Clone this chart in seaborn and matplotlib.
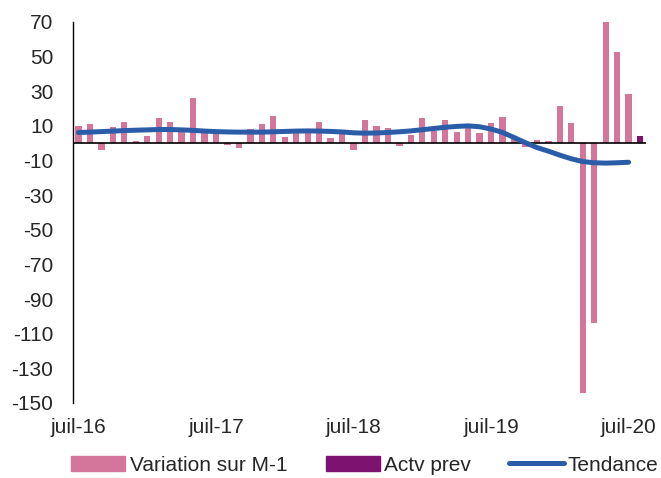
import matplotlib
matplotlib.use("Agg")
import matplotlib.pyplot as plt
import numpy as np
import pandas as pd
import seaborn as sns

MOIS_FR = ["juil", "août", "sept", "oct", "nov", "déc",
           "janv", "févr", "mars", "avr", "mai", "juin"]

# monthly change, juil-16 .. juil-20
variation = [10, 11, -4, 9.5, 12, 1, 4, 14.5, 12, 7, 26, 6,
             5.5, -1, -2.5, 8, 11, 15.5, 3.5, 6.5, 6.5, 12, 3, 6,
             -4, 13.5, 9.7, 8.5, -1.5, 5, 14.3, 7, 13.3, 6.6, 8.5, 6,
             11.6, 15, 3, -2, 1.7, 1, 21.2, 11.6, -144.5, -104, 70, 52.7,
             28.2]
# forecast for août-20
actv_prev = [4.2]
tendance = [6.2, 6.4, 6.7, 7.0, 7.3, 7.5, 7.7, 7.9, 7.9, 7.7, 7.4, 7.0,
            6.7, 6.5, 6.4, 6.4, 6.4, 6.6, 6.8, 7.0, 7.1, 7.0, 6.8, 6.5,
            6.0, 5.8, 5.9, 6.2, 6.6, 7.1, 7.8, 8.5, 9.2, 9.7, 10.0, 9.5,
            8.2, 6.2, 3.3, 0.3, -2.5, -4.6, -6.9, -9.0, -10.6, -11.3, -11.5, -11.3,
            -11.0]
y_ticks = list(range(70, -151, -20))

PINK = "#D4769B"
PURPLE = "#7E1271"
BLUE = "#2A5CA8"

n = len(variation) + len(actv_prev)
labels = [f"{MOIS_FR[i % 12]}-{16 + (i + 6) // 12}" for i in range(n)]
df = pd.DataFrame({
    "mois": labels,
    "valeur": variation + actv_prev,
    "serie": ["Variation sur M-1"] * len(variation) + ["Actv prev"] * len(actv_prev),
})

sns.set_theme(style="white")
plt.rcParams["font.family"] = ["Liberation Sans", "DejaVu Sans"]

fig = plt.figure(figsize=(6.61, 4.78), dpi=100)
ax = fig.add_axes([0.110, 0.157, 0.867, 0.797])

sns.barplot(data=df, x="mois", y="valeur", hue="serie", dodge=False, width=0.55,
            palette={"Variation sur M-1": PINK, "Actv prev": PURPLE},
            saturation=1, linewidth=0, legend=False, ax=ax)
sns.lineplot(x=np.arange(len(tendance)), y=tendance, color=BLUE, linewidth=3.6,
             ax=ax, solid_capstyle="round")

ax.axhline(0, color="black", linewidth=1.2, zorder=1)
ax.set_xlim(-0.5, n - 0.5)
ax.set_ylim(-150, 70)
ax.set_yticks(y_ticks)
ax.set_yticklabels([str(v) for v in y_ticks], fontsize=15)
ax.set_xticks(range(0, n, 12))
ax.set_xticklabels([labels[i] for i in range(0, n, 12)], fontsize=15)
ax.tick_params(axis="both", length=0)
ax.tick_params(axis="y", pad=14)
ax.tick_params(axis="x", pad=11)
ax.set_xlabel("")
ax.set_ylabel("")
for side in ["top", "right", "bottom"]:
    ax.spines[side].set_visible(False)
ax.spines["left"].set_color("black")
ax.spines["left"].set_linewidth(1.0)

handles = [
    matplotlib.patches.Patch(color=PINK, label="Variation sur M-1"),
    matplotlib.patches.Patch(color=PURPLE, label="Actv prev"),
    matplotlib.lines.Line2D([], [], color=BLUE, linewidth=3.6, label="Tendance"),
]
fig.legend(handles=handles, loc="center", bbox_to_anchor=(0.552, 0.027), ncol=3,
           frameon=False, fontsize=15, handlelength=2.6, handletextpad=0.2,
           columnspacing=1.85, borderpad=0)

fig.savefig("out.png", dpi=100)
